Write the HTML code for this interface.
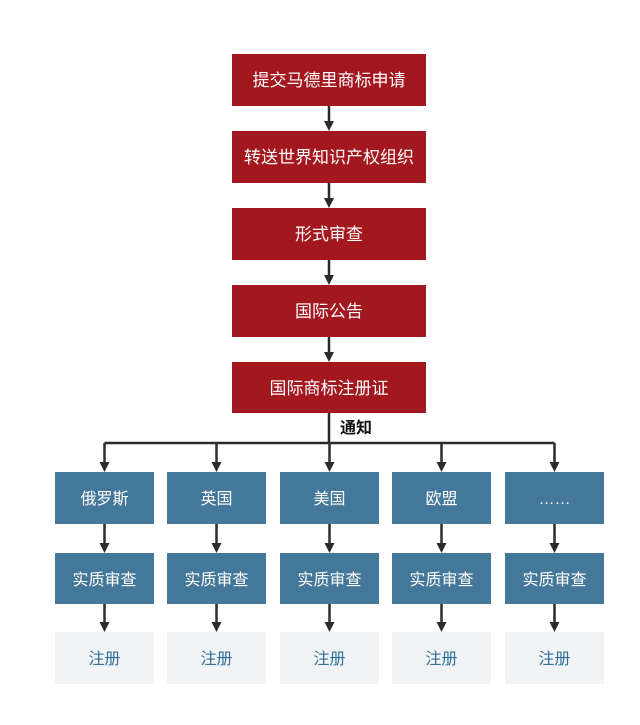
<!DOCTYPE html>
<html><head><meta charset="utf-8"><style>
html,body{margin:0;padding:0;background:#fff;}
text{font-family:"Liberation Sans","Noto Sans CJK SC",sans-serif;}
</style></head><body>
<svg width="640" height="720" viewBox="0 0 640 720" xmlns="http://www.w3.org/2000/svg">
<defs>
<path id="ah" d="M-5,-10 L5,-10 L0,0 z" fill="#2b2b2b"/>
</defs>
<g fill="#a3171f">
<rect x="232" y="54" width="194" height="52"/>
<rect x="232" y="131" width="194" height="52"/>
<rect x="232" y="208" width="194" height="52"/>
<rect x="232" y="285" width="194" height="52"/>
<rect x="232" y="362" width="194" height="51"/>
</g>
<g fill="#fff" font-size="17" text-anchor="middle">
<text x="329" y="86">提交马德里商标申请</text>
<text x="329" y="163">转送世界知识产权组织</text>
<text x="329" y="240">形式审查</text>
<text x="329" y="317">国际公告</text>
<text x="329" y="394">国际商标注册证</text>
</g>
<g stroke="#2b2b2b" stroke-width="2.5" fill="none">
<line x1="329" y1="106" x2="329" y2="122"/>
<line x1="329" y1="183" x2="329" y2="199"/>
<line x1="329" y1="260" x2="329" y2="276"/>
<line x1="329" y1="337" x2="329" y2="353"/>
<line x1="329" y1="413" x2="329" y2="443"/>
<line x1="104.5" y1="443" x2="554.5" y2="443"/>
</g>
<use href="#ah" x="329" y="131"/>
<use href="#ah" x="329" y="208"/>
<use href="#ah" x="329" y="285"/>
<use href="#ah" x="329" y="362"/>
<text x="340" y="433" font-size="16" font-weight="bold" fill="#111">通知</text>

<g stroke="#2b2b2b" stroke-width="2.5">
<line x1="104.5" y1="443" x2="104.5" y2="463"/><line x1="104.5" y1="524" x2="104.5" y2="544"/><line x1="104.5" y1="604" x2="104.5" y2="623"/>
<line x1="216.5" y1="443" x2="216.5" y2="463"/><line x1="216.5" y1="524" x2="216.5" y2="544"/><line x1="216.5" y1="604" x2="216.5" y2="623"/>
<line x1="329.5" y1="443" x2="329.5" y2="463"/><line x1="329.5" y1="524" x2="329.5" y2="544"/><line x1="329.5" y1="604" x2="329.5" y2="623"/>
<line x1="441.5" y1="443" x2="441.5" y2="463"/><line x1="441.5" y1="524" x2="441.5" y2="544"/><line x1="441.5" y1="604" x2="441.5" y2="623"/>
<line x1="554.5" y1="443" x2="554.5" y2="463"/><line x1="554.5" y1="524" x2="554.5" y2="544"/><line x1="554.5" y1="604" x2="554.5" y2="623"/>
</g>
<use href="#ah" x="104.5" y="472"/><use href="#ah" x="104.5" y="553"/><use href="#ah" x="104.5" y="632"/>
<use href="#ah" x="216.5" y="472"/><use href="#ah" x="216.5" y="553"/><use href="#ah" x="216.5" y="632"/>
<use href="#ah" x="329.5" y="472"/><use href="#ah" x="329.5" y="553"/><use href="#ah" x="329.5" y="632"/>
<use href="#ah" x="441.5" y="472"/><use href="#ah" x="441.5" y="553"/><use href="#ah" x="441.5" y="632"/>
<use href="#ah" x="554.5" y="472"/><use href="#ah" x="554.5" y="553"/><use href="#ah" x="554.5" y="632"/>

<g fill="#44789a">
<rect x="55" y="472" width="99" height="52"/><rect x="167" y="472" width="99" height="52"/><rect x="280" y="472" width="99" height="52"/><rect x="392" y="472" width="99" height="52"/><rect x="505" y="472" width="99" height="52"/>
<rect x="55" y="553" width="99" height="51"/><rect x="167" y="553" width="99" height="51"/><rect x="280" y="553" width="99" height="51"/><rect x="392" y="553" width="99" height="51"/><rect x="505" y="553" width="99" height="51"/>
</g>
<g fill="#f2f3f5">
<rect x="55" y="632" width="99" height="52"/><rect x="167" y="632" width="99" height="52"/><rect x="280" y="632" width="99" height="52"/><rect x="392" y="632" width="99" height="52"/><rect x="505" y="632" width="99" height="52"/>
</g>
<g fill="#fff" font-size="16" text-anchor="middle">
<text x="104.5" y="504">俄罗斯</text><text x="216.5" y="504">英国</text><text x="329.5" y="504">美国</text><text x="441.5" y="504">欧盟</text><text x="554.5" y="504">……</text>
<text x="104.5" y="585">实质审查</text><text x="216.5" y="585">实质审查</text><text x="329.5" y="585">实质审查</text><text x="441.5" y="585">实质审查</text><text x="554.5" y="585">实质审查</text>
</g>
<g fill="#2d6f99" font-size="16" text-anchor="middle">
<text x="104.5" y="664">注册</text><text x="216.5" y="664">注册</text><text x="329.5" y="664">注册</text><text x="441.5" y="664">注册</text><text x="554.5" y="664">注册</text>
</g>
</svg>
</body></html>
